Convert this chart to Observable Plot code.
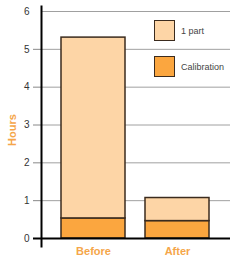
<!DOCTYPE html>
<html>
<head>
<meta charset="utf-8">
<script src="https://cdn.jsdelivr.net/npm/d3@7"></script>
<script src="https://cdn.jsdelivr.net/npm/@observablehq/plot@0.6"></script>
<style>
  html, body { margin: 0; padding: 0; background: #fff; }
  #wrap { position: relative; width: 240px; height: 262px; font-family: "Liberation Sans", Arial, sans-serif; }
  .lg { position: absolute; left: 154px; width: 21px; height: 21px; border: 1.5px solid #3b2b1e; box-sizing: border-box; }
  .lt { position: absolute; left: 181px; font-size: 9px; color: #444; line-height: 10px; }
  #ylab { position: absolute; left: 12px; top: 130px; transform: translate(-50%, -50%) rotate(-90deg); color: #f5a64a; font-weight: bold; font-size: 11px; white-space: nowrap; }
</style>
</head>
<body>
<div id="wrap"></div>
<script>
const categories = ["Before", "After"];
const series = ["Calibration", "1 part"];
const calibration = [0.53, 0.46];
const onePart = [4.78, 0.61];
const yTicks = [0, 1, 2, 3, 4, 5, 6];
const colors = ["#fba63f", "#fdd5a6"];

const data = [];
categories.forEach((c, i) => {
  data.push({cat: c, series: "Calibration", value: calibration[i]});
  data.push({cat: c, series: "1 part", value: onePart[i]});
});

const chart = Plot.plot({
  width: 240,
  height: 262,
  marginLeft: 41,
  marginRight: 10,
  marginTop: 11,
  marginBottom: 24,
  style: {fontFamily: "Liberation Sans, Arial, sans-serif", background: "#fff"},
  x: {domain: categories, range: [41, 230], paddingInner: 0.238, paddingOuter: 0.244, label: null},
  y: {domain: [0, 6], label: null},
  color: {domain: series, range: colors},
  marks: [
    Plot.gridY(yTicks.filter(d => d > 0), {stroke: "#a0a0a0", strokeOpacity: 1, strokeWidth: 1}),
    Plot.barY(data, {x: "cat", y: "value", fill: "series", stroke: "#3b2b1e", strokeWidth: 1.5}),
    Plot.ruleY([0], {stroke: "#000", strokeWidth: 2}),
    Plot.axisY({ticks: yTicks.filter(d => d < 6), tickSize: 8, text: null, stroke: "#888", strokeWidth: 1}),
    Plot.axisY({ticks: [0], tickSize: 8, text: null, stroke: "#000", strokeWidth: 2}),
    Plot.axisY({ticks: yTicks, tickSize: 0, tickPadding: 12, tickFormat: d3.format("d"), fontSize: 10, fill: "#333", label: null}),
    Plot.axisX({tickSize: 0, tickPadding: 9, fontSize: 11, fontWeight: "bold", fill: "#f5a64a", label: null}),
    Plot.frame({anchor: "left", stroke: "#000", strokeWidth: 2, insetTop: -5, insetBottom: -8})
  ]
});

const wrap = document.getElementById("wrap");
wrap.appendChild(chart);

const legendTops = [20, 56];
const legendItems = ["1 part", "Calibration"];
legendItems.forEach((name, i) => {
  const sw = document.createElement("div");
  sw.className = "lg";
  sw.style.top = legendTops[i] + "px";
  sw.style.background = colors[series.indexOf(name)];
  wrap.appendChild(sw);
  const t = document.createElement("div");
  t.className = "lt";
  t.style.top = (legendTops[i] + 6) + "px";
  t.textContent = name;
  wrap.appendChild(t);
});

const yl = document.createElement("div");
yl.id = "ylab";
yl.textContent = "Hours";
wrap.appendChild(yl);
</script>
</body>
</html>
